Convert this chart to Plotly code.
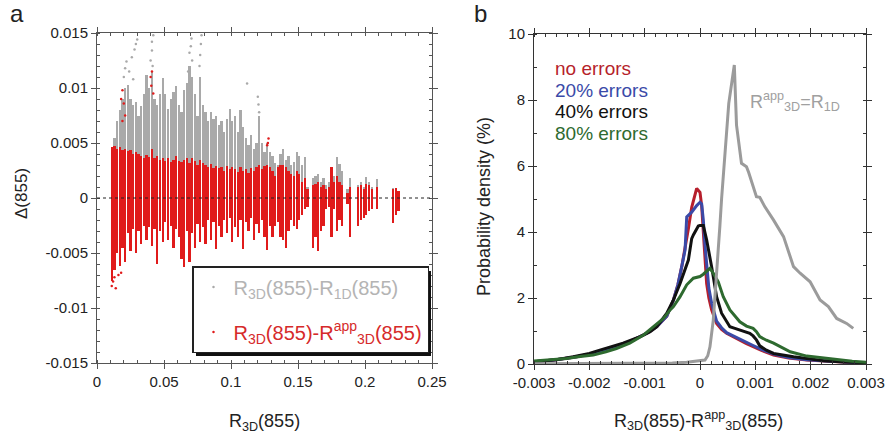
import plotly.graph_objects as go

# ---------------- Panel a data (values in units of 1e-3) ----------------
E3 = 1e-3
bin_x = [0.011,0.013,0.015,0.017,0.019,0.021,0.023,0.025,0.027,0.029,
         0.031,0.033,0.035,0.037,0.039,0.041,0.043,0.045,0.047,0.049,
         0.051,0.053,0.055,0.057,0.059,0.061,0.063,0.065,0.067,0.069,
         0.071,0.073,0.075,0.077,0.079,0.081,0.083,0.085,0.087,0.089,
         0.091,0.093,0.095,0.097,0.099,0.101,0.103,0.105,0.107,0.109,
         0.111,0.113,0.115,0.117,0.119,0.121,0.123,0.125,0.127,0.129,
         0.131,0.133,0.135,0.137,0.139,0.141,0.143,0.145,0.147,0.149,
         0.151,0.153,0.155,0.157,0.161,0.163,0.165,0.167,0.169,0.171,
         0.173,0.175,0.177,0.179,0.181,0.183,0.187,0.189,0.195,0.197,
         0.199,0.201,0.203,0.205,0.209,0.221,0.223,0.225]
gray_top_e3 = [4.5,5.5,7.0,8.0,9.0,10.0,10.3,9.0,8.5,8.7,
               7.5,8.4,9.5,11.2,10.0,11.5,9.0,8.5,9.5,10.9,
               9.5,8.1,9.0,9.6,10.2,8.5,7.8,9.8,10.5,12.0,
               11.0,9.5,7.5,11.0,8.5,7.8,7.0,7.8,7.2,7.5,
               6.6,7.0,6.0,7.2,8.1,7.0,7.5,6.0,8.0,6.5,
               5.5,4.8,5.7,4.5,5.0,7.5,5.0,4.2,5.0,4.2,
               3.8,3.2,3.0,4.0,4.5,3.5,3.8,3.0,3.3,4.2,
               3.8,3.0,3.7,1.0,1.8,2.0,2.2,1.5,1.8,1.2,
               1.5,2.7,2.0,3.7,3.1,2.5,0.8,1.8,1.2,1.5,
               1.0,1.9,1.5,1.0,1.7,0.9,0.9,0.6]
red_top_e3 = [4.6,4.7,4.5,4.6,4.4,4.5,4.3,4.4,4.0,4.2,
              4.0,3.8,3.6,3.9,3.7,4.5,3.6,3.8,3.5,3.6,
              3.4,3.6,3.3,3.5,3.8,3.4,3.3,3.5,3.6,3.2,
              3.6,3.4,3.0,3.5,3.2,3.0,2.8,3.1,2.7,2.9,
              2.7,2.8,2.5,2.9,2.6,2.8,2.6,2.4,2.8,2.5,
              2.6,2.3,2.7,2.5,2.8,3.0,2.6,2.9,3.0,2.8,
              2.5,2.0,2.8,3.0,3.0,2.8,2.5,2.2,2.0,2.5,
              2.2,1.5,1.8,0.8,1.2,1.3,1.5,1.0,1.2,0.8,
              1.0,2.8,1.5,2.0,1.5,1.2,0.5,1.0,1.0,1.2,
              0.8,1.3,1.2,0.8,1.0,0.8,0.9,0.6]
red_bot_e3 = [-7.5,-6.5,-5.0,-6.2,-4.5,-5.8,-3.2,-4.8,-2.8,-5.0,
              -3.0,-4.2,-2.5,-3.8,-2.6,-4.4,-2.8,-6.0,-3.0,-4.0,
              -2.2,-3.8,-2.5,-4.5,-2.8,-3.5,-5.5,-6.3,-3.0,-5.8,
              -3.2,-4.5,-2.4,-4.0,-2.6,-4.2,-2.0,-3.8,-2.2,-4.6,
              -2.5,-3.5,-2.0,-3.2,-1.8,-4.0,-2.6,-3.5,-2.0,-4.6,
              -2.2,-3.0,-1.8,-3.8,-2.4,-3.2,-2.0,-3.5,-4.7,-2.5,
              -3.5,-2.5,-2.2,-3.5,-3.8,-4.5,-3.0,-2.0,-2.5,-2.8,
              -2.0,-1.5,-1.0,-0.8,-4.5,-3.5,-4.8,-3.0,-2.5,-1.0,
              -0.8,-3.5,-1.0,-3.0,-2.0,-2.5,-0.5,-3.5,-2.5,-2.0,
              -1.8,-1.5,-1.2,-1.0,-1.0,-2.3,-1.5,-1.2]
# sparse outlying points
gray_pts_x = [0.020,0.021,0.022,0.024,0.026,0.027,0.028,0.029,0.030,0.040,0.041,0.041,0.042,
              0.0415,0.068,0.069,0.070,0.0705,0.071,0.0765,0.077,0.0775,0.078,0.112,0.120,0.1205,0.121]
gray_pts_e3 = [11.0,11.8,12.4,11.5,12.8,10.8,13.5,14.0,14.4,12.5,13.4,14.2,14.8,
               12.0,11.5,13.2,13.8,14.5,12.5,12.0,13.0,14.0,14.8,10.4,9.2,8.5,7.8]
red_pts_x = [0.018,0.019,0.020,0.021,0.019,0.040,0.041,0.0405,0.042,0.128,0.127,0.1275,
             0.011,0.012,0.013,0.014,0.016,0.018]
red_pts_e3 = [9.0,9.8,8.6,7.5,7.0,11.0,11.5,10.2,9.5,5.4,4.8,5.0,
              -8.0,-7.6,-7.2,-8.2,-7.0,-6.8]

# ---------------- Panel b data (x in units of 1e-3, density in %) ----------------
no_x = [-3.0,-2.6,-2.23,-2.0,-1.75,-1.5,-1.33,-1.15,-0.96,-0.78,-0.6,-0.48,-0.4,-0.33,-0.27,-0.21,-0.15,-0.1,-0.06,0.0,
        0.03,0.06,0.09,0.12,0.16,0.21,0.30,0.39,0.48,0.6,0.72,0.84,0.96,1.1,1.33,1.6,1.93,2.3,2.6,3.0]
no_y = [0.07,0.13,0.22,0.3,0.42,0.53,0.63,0.78,0.93,1.13,1.45,1.94,2.4,2.95,3.5,4.1,4.75,5.1,5.32,5.2,
        4.8,4.0,3.2,2.44,2.0,1.64,1.23,1.05,0.93,0.82,0.73,0.62,0.53,0.42,0.27,0.18,0.12,0.08,0.05,0.02]
e20_x = [-3.0,-2.6,-2.23,-2.0,-1.75,-1.5,-1.33,-1.15,-0.96,-0.78,-0.6,-0.48,-0.4,-0.33,-0.27,-0.24,-0.15,-0.06,0.0,
         0.03,0.06,0.09,0.12,0.16,0.21,0.30,0.39,0.48,0.6,0.72,0.84,0.96,1.1,1.33,1.6,1.93,2.3,2.6,3.0]
e20_y = [0.07,0.13,0.22,0.3,0.42,0.53,0.63,0.78,0.93,1.13,1.45,1.94,2.4,2.95,3.45,4.46,4.6,4.8,4.9,
         4.85,4.36,3.6,2.95,2.3,1.84,1.3,1.1,0.95,0.85,0.76,0.66,0.56,0.45,0.3,0.2,0.13,0.09,0.06,0.03]
e40_x = [-3.0,-2.6,-2.29,-2.0,-1.81,-1.6,-1.39,-1.2,-1.08,-0.9,-0.78,-0.6,-0.48,-0.36,-0.27,-0.21,-0.15,-0.12,-0.03,0.0,
         0.06,0.09,0.12,0.21,0.30,0.39,0.54,0.63,0.72,0.80,0.90,0.96,1.02,1.08,1.2,1.33,1.5,1.69,2.0,2.23,2.6,3.0]
e40_y = [0.07,0.13,0.22,0.32,0.42,0.52,0.63,0.75,0.83,0.98,1.13,1.54,1.94,2.44,2.85,3.15,3.8,3.91,4.18,4.2,
         4.2,4.0,3.76,2.95,2.04,1.54,1.13,1.08,1.03,0.98,0.93,0.85,0.73,0.55,0.42,0.32,0.27,0.22,0.15,0.10,0.06,0.04]
e80_x = [-3.0,-2.7,-2.41,-2.2,-1.93,-1.7,-1.51,-1.27,-1.02,-0.84,-0.66,-0.54,-0.48,-0.36,-0.24,-0.12,0.0,0.06,0.12,0.18,
         0.24,0.33,0.42,0.54,0.72,0.84,0.96,1.02,1.08,1.2,1.33,1.63,1.93,2.2,2.53,2.75,3.0]
e80_y = [0.09,0.13,0.17,0.22,0.27,0.37,0.47,0.63,0.88,1.13,1.38,1.64,1.74,2.04,2.4,2.6,2.65,2.72,2.8,2.9,
         2.75,2.49,2.04,1.64,1.28,1.15,1.08,0.98,0.83,0.72,0.63,0.37,0.24,0.18,0.12,0.08,0.05]
app_x = [-3.0,-2.5,-2.0,-1.5,-1.0,-0.5,-0.24,0.0,0.09,0.14,0.18,0.24,0.30,0.36,0.39,0.52,0.62,0.66,0.75,0.84,
         0.88,1.02,1.08,1.17,1.33,1.51,1.69,1.81,1.99,2.17,2.32,2.47,2.65,2.77]
app_y = [0.01,0.01,0.01,0.02,0.02,0.03,0.05,0.09,0.12,0.25,0.52,1.33,2.65,4.2,5.0,7.9,9.06,7.24,6.08,5.98,
         5.8,5.07,5.05,4.77,4.36,3.86,2.95,2.75,2.49,1.94,1.74,1.38,1.23,1.08]

a_xticks = [0, 0.05, 0.1, 0.15, 0.2, 0.25]
a_xtext = ["0", "0.05", "0.1", "0.15", "0.2", "0.25"]
a_yticks = [-0.015, -0.01, -0.005, 0, 0.005, 0.01, 0.015]
a_ytext = ["-0.015", "-0.01", "-0.005", "0", "0.005", "0.01", "0.015"]
b_xticks = [-0.003, -0.002, -0.001, 0, 0.001, 0.002, 0.003]
b_xtext = ["-0.003", "-0.002", "-0.001", "0", "0.001", "0.002", "0.003"]
b_yticks = [0, 2, 4, 6, 8, 10]

GRAY_PT = "#a9a9a9"
RED_PT = "#e01b1b"
FONT = "Liberation Sans, Arial, sans-serif"
W, H = 888, 439

fig = go.Figure()

# panel a: clouds as narrow columns
fig.add_trace(go.Bar(x=bin_x, y=[g * E3 for g in gray_top_e3], base=0, width=0.0017,
                     marker=dict(color=GRAY_PT, line=dict(width=0)), showlegend=False,
                     xaxis="x", yaxis="y", hoverinfo="skip"))
fig.add_trace(go.Scatter(x=gray_pts_x, y=[v * E3 for v in gray_pts_e3], mode="markers",
                         marker=dict(color=GRAY_PT, size=2.5),
                         name='<span style="color:#b4b4b4">R<sub>3D</sub>(855)-R<sub>1D</sub>(855)</span>',
                         legendgroup="g1", xaxis="x", yaxis="y"))
fig.add_trace(go.Bar(x=bin_x, y=[(t - b) * E3 for t, b in zip(red_top_e3, red_bot_e3)],
                     base=[b * E3 for b in red_bot_e3], width=0.0017,
                     marker=dict(color=RED_PT, line=dict(width=0)), showlegend=False,
                     xaxis="x", yaxis="y", hoverinfo="skip"))
fig.add_trace(go.Scatter(x=red_pts_x, y=[v * E3 for v in red_pts_e3], mode="markers",
                         marker=dict(color=RED_PT, size=2.5),
                         name='<span style="color:#d62a2a">R<sub>3D</sub>(855)-R<sup>app</sup><sub>3D</sub>(855)</span>',
                         legendgroup="g2", xaxis="x", yaxis="y"))

# panel b curves
curves = [(no_x, no_y, "#b61f2c"), (e20_x, e20_y, "#3a4aa8"), (e40_x, e40_y, "#111111"),
          (e80_x, e80_y, "#2e6a2f"), (app_x, app_y, "#9b9b9b")]
for cx, cy, col in curves:
    fig.add_trace(go.Scatter(x=[v * E3 for v in cx], y=cy, mode="lines",
                             line=dict(color=col, width=3), showlegend=False,
                             xaxis="x2", yaxis="y2"))

def px_x(p):
    return p / W

def px_y(p):
    return 1 - p / H

tickfont = dict(family=FONT, size=15, color="#222222")
common = dict(showgrid=False, zeroline=False, showline=True, mirror="allticks", automargin=False,
              ticks="outside", ticklen=5, tickwidth=1, tickfont=tickfont)

fig.update_layout(
    width=W, height=H, margin=dict(l=0, r=0, t=0, b=0, autoexpand=False),
    paper_bgcolor="white", plot_bgcolor="white", barmode="overlay", bargap=0,
    font=dict(family=FONT),
    xaxis=dict(domain=[px_x(97), px_x(432)], range=[0, 0.25], tickvals=a_xticks, ticktext=a_xtext,
               linecolor="#555555", tickcolor="#555555",
               minor=dict(dtick=0.01, ticks="inside", ticklen=3, tickcolor="#555555"), anchor="y", **common),
    yaxis=dict(domain=[px_y(363), px_y(33)], range=[-0.015, 0.015], tickvals=a_yticks, ticktext=a_ytext,
               linecolor="#555555", tickcolor="#555555",
               minor=dict(dtick=0.001, ticks="inside", ticklen=3, tickcolor="#555555"), anchor="x", **common),
    xaxis2=dict(domain=[px_x(534), px_x(866)], range=[-0.003, 0.003], tickvals=b_xticks, ticktext=b_xtext,
                linecolor="#333333", tickcolor="#333333",
                minor=dict(dtick=0.0002, ticks="inside", ticklen=3, tickcolor="#333333"), anchor="y2", **common),
    yaxis2=dict(domain=[px_y(364), px_y(34)], range=[0, 10], tickvals=b_yticks,
                linecolor="#333333", tickcolor="#333333",
                minor=dict(dtick=1, ticks="inside", ticklen=3, tickcolor="#333333"), anchor="x2", **common),
    legend=dict(x=px_x(192), y=px_y(266), xanchor="left", yanchor="top",
                bgcolor="white", bordercolor="#222222", borderwidth=1.5,
                font=dict(family=FONT, size=20), tracegroupgap=16, itemsizing="trace"),
)

# zero reference line (dotted) and legend shadow
fig.add_shape(type="line", xref="x domain", yref="y", x0=0, x1=1, y0=0, y1=0,
              line=dict(color="#222222", width=1, dash="dot"), layer="above")
fig.add_shape(type="rect", xref="paper", yref="paper", x0=px_x(196), x1=px_x(431),
              y0=px_y(356), y1=px_y(271), fillcolor="#111111", line=dict(width=0), layer="above")

ann = []
def A(text, x, y, size, color="#222222", xanchor="center", yanchor="middle", angle=0):
    ann.append(dict(text=text, x=px_x(x), y=px_y(y), xref="paper", yref="paper", showarrow=False,
                    font=dict(family=FONT, size=size, color=color), xanchor=xanchor, yanchor=yanchor,
                    textangle=angle))

A("a", 17, 14, 24)
A("b", 481, 14, 24)
A("Δ(855)", 21, 194, 17, angle=-90)
A("R<sub>3D</sub>(855)", 264, 422, 18)
A("Probability density (%)", 484, 207, 18, angle=-90)
A("R<sub>3D</sub>(855)-R<sup>app</sup><sub>3D</sub>(855)", 698, 420, 18)
A("no errors", 553, 69, 19, color="#b61f2c", xanchor="left")
A("20% errors", 553, 90, 19, color="#3a4aa8", xanchor="left")
A("40% errors", 553, 112, 19, color="#111111", xanchor="left")
A("80% errors", 553, 134, 19, color="#2e6a2f", xanchor="left")
A("R<sup>app</sup><sub>3D</sub>=R<sub>1D</sub>", 748, 101, 18, color="#a0a0a0", xanchor="left")
fig.update_layout(annotations=ann)

fig.write_html("out.html", config={"displayModeBar": False},
               post_script="document.body.style.margin='0';document.body.style.overflow='hidden';")
